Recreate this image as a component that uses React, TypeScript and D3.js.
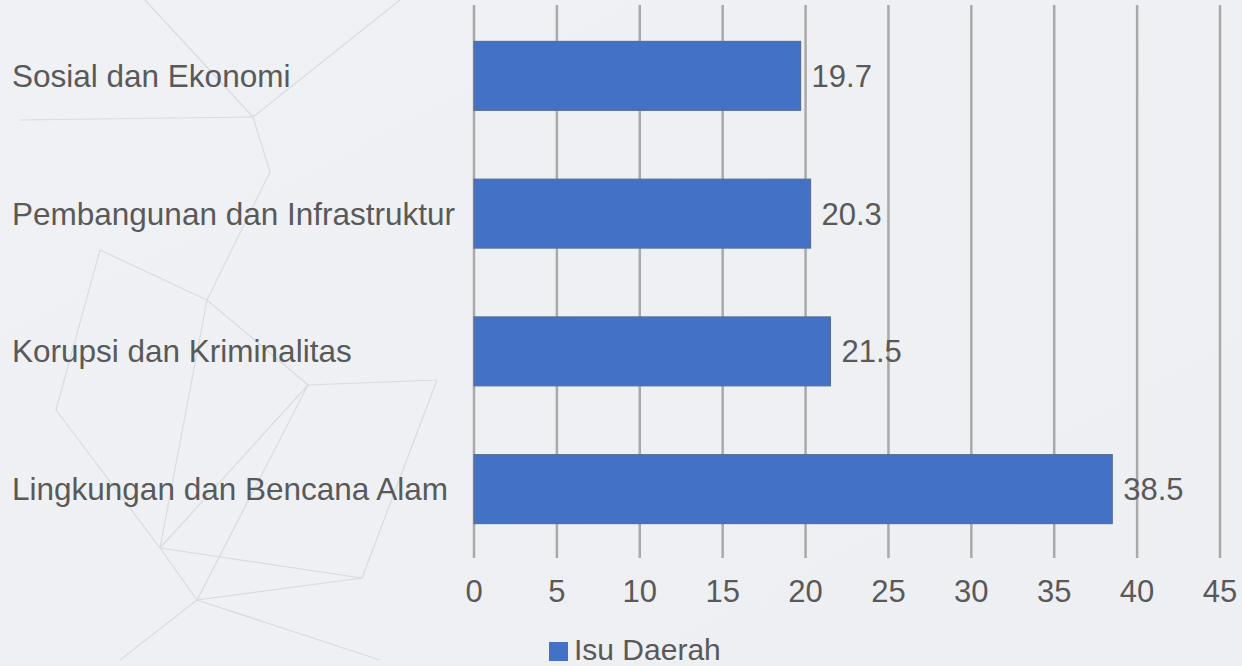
import React from "react";
import * as d3 from "d3";

const categories = [
  "Sosial dan Ekonomi",
  "Pembangunan dan Infrastruktur",
  "Korupsi dan Kriminalitas",
  "Lingkungan dan Bencana Alam",
];
const values = [19.7, 20.3, 21.5, 38.5];
const tickValues = [0, 5, 10, 15, 20, 25, 30, 35, 40, 45];
const seriesName = "Isu Daerah";

// decorative background network (not data)
const bgNodes: [number, number][] = [
  [145, 0], [253, 117], [270, 172], [207, 300], [308, 385], [437, 380],
  [160, 548], [197, 600], [56, 410], [100, 250], [362, 578], [400, 0],
  [380, 660], [120, 660], [20, 120],
];
const bgEdges: [number, number][] = [
  [0, 1], [1, 2], [1, 11], [2, 3], [3, 4], [4, 5], [4, 6], [6, 7], [7, 10],
  [6, 8], [8, 9], [9, 3], [7, 12], [7, 13], [6, 10], [5, 10], [1, 14], [3, 6], [4, 7],
];

const W = 1242;
const H = 666;
const textColor = "#595959";
const font = "'Liberation Sans', Arial, sans-serif";

export default function App() {
  const x = d3.scaleLinear().domain([0, 45]).range([474, 1220]);
  const y = d3
    .scaleBand<string>()
    .domain(categories)
    .range([7, 558])
    .paddingInner(0.5)
    .paddingOuter(0.25);

  return (
    <div style={{ position: "absolute", left: 0, top: 0 }}>
      <svg width={W} height={H} style={{ display: "block" }}>
        <defs>
          <linearGradient id="bg" x1="0" y1="0" x2="1" y2="1">
            <stop offset="0" stopColor="#eff1f4" />
            <stop offset="1" stopColor="#edeff2" />
          </linearGradient>
          <filter id="blur">
            <feGaussianBlur stdDeviation="0.6" />
          </filter>
        </defs>
        <rect x={0} y={0} width={W} height={H} fill="url(#bg)" />
        <g opacity={0.22} filter="url(#blur)">
          {bgEdges.map(([a, b], i) => (
            <line
              key={i}
              x1={bgNodes[a][0]}
              y1={bgNodes[a][1]}
              x2={bgNodes[b][0]}
              y2={bgNodes[b][1]}
              stroke="#8a909a"
              strokeWidth={1.2}
            />
          ))}
        </g>
        {/* gridlines */}
        {tickValues.map((t) => (
          <line
            key={t}
            x1={x(t)}
            x2={x(t)}
            y1={5}
            y2={558}
            stroke="#a9a9a9"
            strokeWidth={2.5}
          />
        ))}
        {/* bars */}
        {categories.map((c, i) => (
          <g key={c}>
            <rect
              x={x(0)}
              y={y(c)!}
              width={x(values[i]) - x(0)}
              height={y.bandwidth()}
              fill="#4371c6"
              stroke="#5a6e94"
              strokeWidth={1.2}
            />
            <text
              x={x(values[i]) + 11}
              y={y(c)! + y.bandwidth() / 2 + 11}
              fontFamily={font}
              fontSize={31}
              fill={textColor}
            >
              {values[i]}
            </text>
            <text
              x={12}
              y={y(c)! + y.bandwidth() / 2 + 11}
              fontFamily={font}
              fontSize={31.5}
              fill={textColor}
            >
              {c}
            </text>
          </g>
        ))}
        {/* tick labels */}
        {tickValues.map((t) => (
          <text
            key={t}
            x={x(t)}
            y={602}
            textAnchor="middle"
            fontFamily={font}
            fontSize={31}
            fill={textColor}
          >
            {t}
          </text>
        ))}
        {/* legend */}
        <rect x={549} y={642} width={19} height={19} fill="#4371c6" />
        <text x={574} y={660} fontFamily={font} fontSize={30} fill={textColor}>
          {seriesName}
        </text>
      </svg>
    </div>
  );
}
